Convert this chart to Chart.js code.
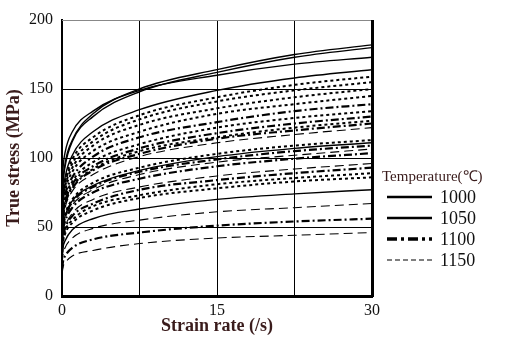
<!DOCTYPE html>
<html>
<head>
<meta charset="utf-8">
<script src="https://cdn.jsdelivr.net/npm/chart.js@4.4.1/dist/chart.umd.min.js"></script>
<style>
  html, body { margin: 0; padding: 0; background: #fff; }
  #wrap { position: relative; width: 511px; height: 344px; }
</style>
</head>
<body>
<div id="wrap"><canvas id="flowChart" width="511" height="344"></canvas></div>
<script>
// strain rate sample points (/s)
const strainRates = [0.02, 0.1, 0.3, 1, 3, 7.5, 15, 22.5, 30];

// true stress (MPa) per curve, one row per curve
const stress1000 = [
  [65, 82, 96, 113, 132, 150, 164, 175, 182],
  [65, 81, 94, 112, 130, 148, 162, 173, 180],
  [77, 92, 104, 119, 134, 149, 160, 168, 173],
  [59, 74, 86, 102, 119, 135, 149, 158, 164],
  [40, 50, 58, 69, 80, 91, 101, 107, 111],
  [28, 35, 40, 48, 56, 63, 70, 74, 77]
];
const stress1050 = [
  [57, 72, 83, 99, 115, 131, 144, 153, 159],
  [56, 70, 81, 96, 112, 128, 141, 149, 155],
  [54, 68, 79, 93, 109, 124, 136, 144, 150],
  [52, 65, 76, 90, 105, 119, 132, 139, 145],
  [48, 60, 70, 83, 97, 110, 122, 129, 134],
  [46, 57, 67, 79, 92, 105, 115, 122, 127],
  [41, 51, 59, 70, 82, 93, 103, 109, 113],
  [32, 40, 47, 55, 65, 73, 81, 85.5, 89],
  [31, 39, 45, 53, 62, 71, 78, 83, 86]
];
const stress1100 = [
  [50, 63, 73, 86, 101, 115, 126, 134, 139],
  [47, 59, 68, 81, 94, 107, 118, 125, 130],
  [45, 56, 66, 78, 91, 103, 114, 120, 125],
  [39, 49, 57, 68, 79, 90, 99, 105, 109],
  [37, 47, 54, 64, 75, 85, 94, 99.5, 103.5],
  [33, 42, 49, 58, 67, 77, 84, 89, 93],
  [20, 25, 29, 35, 41, 46, 51, 54, 56]
];
const stress1150 = [
  [44, 55, 64, 76, 88, 101, 111, 117, 122],
  [38, 48, 56, 66, 77, 88, 97, 102, 106.5],
  [34, 43, 50, 60, 70, 79, 87, 92, 96],
  [24, 30, 35, 42, 49, 55, 61, 64, 67],
  [16.5, 21, 24, 29, 33, 38, 42, 44, 46]
];

const temperatures = ['1000', '1050', '1100', '1150'];
const xTicks = [0, 15, 30];

const lineStyles = {
  '1000': { borderWidth: 1.4, borderDash: [] },
  '1050': { borderWidth: 2, borderDash: [3, 3] },
  '1100': { borderWidth: 2.2, borderDash: [8, 3, 2, 3] },
  '1150': { borderWidth: 1.1, borderDash: [9, 5] }
};
const legendStyles = {
  '1000': { width: 2.5, dash: [] },
  '1050': { width: 2.5, dash: [] },
  '1100': { width: 3.5, dash: [10, 4, 3, 4] },
  '1150': { width: 1.2, dash: [5, 3] }
};

const serif = "'Liberation Serif', 'Times New Roman', serif";
const titleColor = '#3a1c1c';

function buildDatasets() {
  const groups = { '1000': stress1000, '1050': stress1050, '1100': stress1100, '1150': stress1150 };
  const sets = [];
  temperatures.forEach(t => {
    groups[t].forEach(row => {
      sets.push({
        label: t,
        data: row.map((v, i) => ({ x: strainRates[i], y: v })),
        borderColor: '#000',
        borderWidth: lineStyles[t].borderWidth,
        borderDash: lineStyles[t].borderDash,
        pointRadius: 0,
        fill: false,
        cubicInterpolationMode: 'monotone'
      });
    });
  });
  return sets;
}

// inner grid only, the frame is drawn separately
const innerGrid = (lo, hi) => ctx => {
  const v = ctx.tick && ctx.tick.value;
  return (v === lo || v === hi) ? 'rgba(0,0,0,0)' : '#000';
};

// frame edges and the temperature key
const framePlugin = {
  id: 'frame',
  afterDraw(chart) {
    const { ctx, chartArea: a } = chart;
    ctx.save();
    ctx.strokeStyle = '#888';
    ctx.lineWidth = 1;
    ctx.beginPath();
    ctx.moveTo(a.left, a.top + 0.5);
    ctx.lineTo(a.right, a.top + 0.5);
    ctx.stroke();
    ctx.strokeStyle = '#000';
    ctx.lineWidth = 3;
    ctx.beginPath();
    ctx.moveTo(a.right + 0.5, a.top);
    ctx.lineTo(a.right + 0.5, a.bottom + 1);
    ctx.stroke();

    // key
    ctx.fillStyle = titleColor;
    ctx.font = '15px ' + serif;
    ctx.textAlign = 'left';
    ctx.textBaseline = 'middle';
    ctx.fillText('Temperature(\u2103)', 382, 177);
    const rows = [197, 218, 239, 260];
    temperatures.forEach((t, i) => {
      const st = legendStyles[t];
      ctx.strokeStyle = '#000';
      ctx.lineWidth = st.width;
      ctx.setLineDash(st.dash);
      ctx.beginPath();
      ctx.moveTo(387, rows[i]);
      ctx.lineTo(432, rows[i]);
      ctx.stroke();
      ctx.setLineDash([]);
      ctx.fillStyle = '#111';
      ctx.font = '18px ' + serif;
      ctx.fillText(t, 440, rows[i] + 1);
    });
    ctx.restore();
  }
};

new Chart(document.getElementById('flowChart'), {
  type: 'line',
  data: { datasets: buildDatasets() },
  plugins: [framePlugin],
  options: {
    responsive: false,
    animation: false,
    layout: { padding: { left: 0, top: 20, right: 139, bottom: 0 } },
    plugins: { legend: { display: false }, tooltip: { enabled: false } },
    scales: {
      x: {
        type: 'linear',
        min: 0,
        max: 30,
        afterFit: s => { s.height = 48; },
        ticks: {
          stepSize: 7.5,
          autoSkip: false,
          maxRotation: 0,
          padding: 5,
          color: '#111',
          font: { family: serif, size: 16 },
          callback: v => (xTicks.includes(v) ? String(v) : '')
        },
        grid: { color: innerGrid(0, 30), lineWidth: 1, drawTicks: false },
        border: { color: '#000', width: 3 },
        title: {
          display: true,
          text: 'Strain rate (/s)',
          color: titleColor,
          font: { family: serif, size: 18, weight: 'bold' },
          padding: { top: 0, bottom: 7 }
        }
      },
      y: {
        min: 0,
        max: 200,
        afterFit: s => { s.width = 62; },
        ticks: {
          stepSize: 50,
          padding: 9,
          color: '#111',
          font: { family: serif, size: 16 }
        },
        grid: { color: innerGrid(0, 200), lineWidth: 1, drawTicks: false },
        border: { color: '#000', width: 2 },
        title: {
          display: true,
          text: 'True stress (MPa)',
          color: titleColor,
          font: { family: serif, size: 18, weight: 'bold' },
          padding: { top: 4, bottom: 0 }
        }
      }
    }
  }
});
</script>
</body>
</html>
